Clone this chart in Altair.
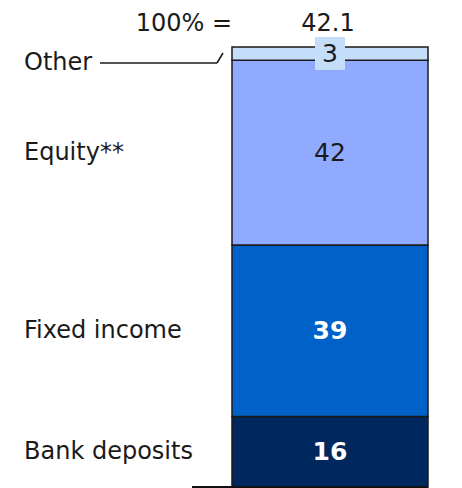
import altair as alt
import pandas as pd

# Data (bottom to top)
categories = ["Bank deposits", "Fixed income", "Equity**", "Other"]
values = [16, 39, 42, 3]
colors = ["#00285E", "#0062C8", "#90AAFF", "#C4DDF8"]
light_text = [True, True, False, False]
total_prefix = "100% ="
total_value = "42.1"

starts, ends = [], []
acc = 0
for v in values:
    starts.append(acc)
    acc += v
    ends.append(acc)

df = pd.DataFrame({
    "category": categories,
    "value": values,
    "start": starts,
    "end": ends,
    "mid": [(s + e) / 2 for s, e in zip(starts, ends)],
    "light": light_text,
})

FONT = "DejaVu Sans"
yscale = alt.Scale(domain=[0, 100], range=[479, 39])
base = alt.Chart(df)

bars = base.mark_rect(stroke="#1a1a1a", strokeWidth=1.5).encode(
    x=alt.value(224), x2=alt.value(420),
    y=alt.Y("start:Q", scale=yscale, axis=None), y2="end:Q",
    color=alt.Color("category:N", scale=alt.Scale(domain=categories, range=colors), legend=None),
)

baseline = base.mark_rule(color="#111111", strokeWidth=2).encode(
    x=alt.value(184), x2=alt.value(420), y=alt.value(479)
)

cat_labels = base.transform_filter(alt.datum.category != "Other").mark_text(
    align="left", baseline="middle", font=FONT, fontSize=24, color="#1a1a1a"
).encode(x=alt.value(16), y=alt.Y("mid:Q", scale=yscale), text="category:N")

other_label = base.transform_filter(alt.datum.category == "Other").mark_text(
    align="left", baseline="middle", font=FONT, fontSize=24, color="#1a1a1a", dy=9
).encode(x=alt.value(16), y=alt.Y("mid:Q", scale=yscale), text="category:N")

leader1 = base.transform_filter(alt.datum.category == "Other").mark_rule(color="#1a1a1a", strokeWidth=1.5).encode(
    x=alt.value(92), x2=alt.value(209), y=alt.value(55)
)
leader2 = base.transform_filter(alt.datum.category == "Other").mark_rule(color="#1a1a1a", strokeWidth=1.5).encode(
    x=alt.value(209), x2=alt.value(215), y=alt.value(55), y2=alt.value(45)
)

other_box = base.transform_filter(alt.datum.category == "Other").mark_rect(color="#C4DDF8").encode(
    x=alt.value(307), x2=alt.value(337), y=alt.value(29), y2=alt.value(62)
)

dark_vals = base.transform_filter(alt.datum.light == False).mark_text(
    align="center", baseline="middle", font=FONT, fontSize=25, color="#1a1a1a"
).encode(x=alt.value(322), y=alt.Y("mid:Q", scale=yscale), text="value:Q")

light_vals = base.transform_filter(alt.datum.light == True).mark_text(
    align="center", baseline="middle", font=FONT, fontSize=25, fontWeight="bold", color="white"
).encode(x=alt.value(322), y=alt.Y("mid:Q", scale=yscale), text="value:Q")

top_df = pd.DataFrame({"prefix": [total_prefix], "total": [total_value]})
top_prefix = alt.Chart(top_df).mark_text(
    align="right", baseline="middle", font=FONT, fontSize=24, color="#1a1a1a"
).encode(x=alt.value(224), y=alt.value(16), text="prefix:N")
top_total = alt.Chart(top_df).mark_text(
    align="center", baseline="middle", font=FONT, fontSize=24, color="#1a1a1a"
).encode(x=alt.value(320), y=alt.value(16), text="total:N")

chart = alt.layer(
    bars, baseline, leader1, leader2, other_box, cat_labels, other_label,
    dark_vals, light_vals, top_prefix, top_total
).properties(
    width=446, height=480,
    padding=0,
    autosize=alt.AutoSizeParams(type="none"),
    background="white",
).configure_view(stroke=None)

chart.save("out.html", embed_options={"renderer": "svg", "actions": False})
